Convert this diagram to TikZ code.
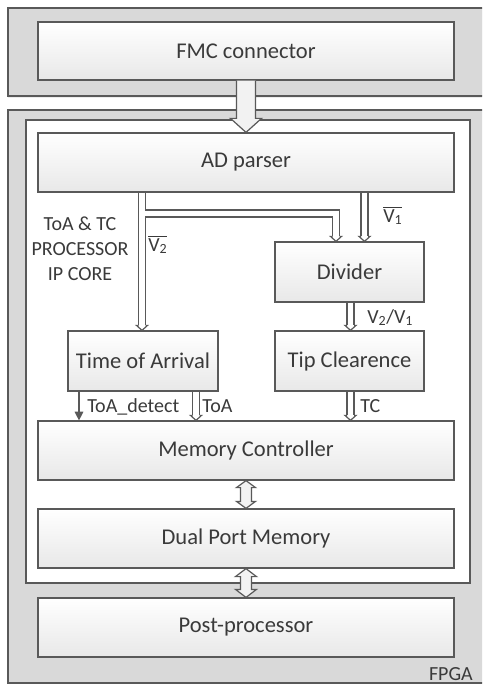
\documentclass[tikz,border=0pt]{standalone}
\usepackage{fontspec}
\setmainfont{Carlito}
\usetikzlibrary{calc,shadows,arrows.meta}
\definecolor{bord}{HTML}{595959}
\definecolor{bggray}{HTML}{D9D9D9}
\definecolor{txt}{HTML}{3A3A3A}
\newcommand\ovl[1]{$\overline{\hbox{#1}}$}
\begin{document}
\begin{tikzpicture}[x=0.75pt,y=-0.75pt,
  box/.style={draw=bord, line width=0.9pt, top color=white, bottom color=black!9,
    text=txt, font=\fontsize{16.9}{20}\selectfont,
    drop shadow={opacity=0.18, shadow xshift=1pt, shadow yshift=-1pt}},
  lbl/.style={text=txt, font=\fontsize{15}{18.75}\selectfont, inner sep=0pt},
  region/.style={draw=bord, line width=0.9pt, fill=bggray},
  pipeo/.style={draw=bord, line width=6.2pt, line join=miter, shorten >=3.75pt},
  pipei/.style={draw=white, line width=4.35pt, line join=miter, shorten >=3.75pt},
  barrow/.style={draw=bord, line width=0.9pt, fill=white!95!black, line join=miter},
  dhead/.pic={\draw[bord, line width=0.9pt, fill=white, line join=miter]
    (-3.5,-5) -- (-5.5,-5) -- (0,0) -- (5.5,-5) -- (3.5,-5);},
]
\clip (0,0) rectangle (482,684);
\fill[white] (0,0) rectangle (482,684);
% regions
\draw[region, drop shadow={opacity=0.15, shadow xshift=0pt, shadow yshift=-1.2pt}] (8,8) rectangle (496,96);
\draw[region] (8,110) rectangle (496,683);
\draw[draw=bord, line width=0.9pt, fill=white] (26,120) rectangle (470,583);
\node[lbl, anchor=base east] (fpga) at (473,680) {FPGA};

% boxes
\node[box, minimum width=416*0.75pt, minimum height=58*0.75pt] (fmc) at (246,51) {FMC connector};
\node[box, minimum width=416*0.75pt, minimum height=59*0.75pt] (adp) at (246,162.5) {AD parser};
\node[box, minimum width=149*0.75pt, minimum height=60*0.75pt] (div) at (349.5,272) {Divider};
\node[box, minimum width=150*0.75pt, minimum height=60*0.75pt] (toa) at (143,361) {Time of Arrival};
\node[box, minimum width=149*0.75pt, minimum height=60*0.75pt] (tip) at (349.5,361) {Tip Clearence};
\node[box, minimum width=416*0.75pt, minimum height=59*0.75pt] (mc) at (246,450.5) {Memory Controller};
\node[box, minimum width=416*0.75pt, minimum height=59*0.75pt] (dpm) at (246,538.5) {Dual Port Memory};
\node[box, minimum width=416*0.75pt, minimum height=59*0.75pt] (pp) at (246,627.5) {Post-processor};

% column coordinates
\coordinate (xt) at (142,0);
\coordinate (xd1) at (336,0);
\coordinate (xd2) at (364.5,0);
\coordinate (yb) at (0,213.5);
\coordinate (xdt) at (350.5,0);
\coordinate (xa) at (196,0);
\coordinate (xdet) at (79,0);

% double-line arrows: outer layer
\draw[pipeo] (xt |- adp.south) -- (xt |- toa.north);
\draw[pipeo] (xt |- yb) -- (xd1 |- yb) -- (xd1 |- div.north);
\draw[pipeo] (xd2 |- adp.south) -- (xd2 |- div.north);
\draw[pipeo] (xdt |- div.south) -- (xdt |- tip.north);
\draw[pipeo] (xa |- toa.south) -- (xa |- mc.north);
\draw[pipeo] (xdt |- tip.south) -- (xdt |- mc.north);
% inner layer
\draw[pipei, shorten <=0.6pt] (xt |- adp.south) -- (xt |- toa.north);
\draw[pipei] (xt |- yb) -- (xd1 |- yb) -- (xd1 |- div.north);
\draw[pipei, shorten <=0.6pt] (xd2 |- adp.south) -- (xd2 |- div.north);
\draw[pipei, shorten <=0.6pt] (xdt |- div.south) -- (xdt |- tip.north);
\draw[pipei, shorten <=0.6pt] (xa |- toa.south) -- (xa |- mc.north);
\draw[pipei, shorten <=0.6pt] (xdt |- tip.south) -- (xdt |- mc.north);
% heads
\pic at (xt |- toa.north) {dhead};
\pic at (xd1 |- div.north) {dhead};
\pic at (xd2 |- div.north) {dhead};
\pic at (xdt |- tip.north) {dhead};
\pic at (xa |- mc.north) {dhead};
\pic at (xdt |- mc.north) {dhead};

% single arrow
\draw[bord, line width=0.9pt, -{Triangle[length=6.5pt, width=6.5pt]}] (xdet |- toa.south) -- (xdet |- mc.north);

% block arrows
\draw[barrow] ($(fmc.south)+(-9.5,0)$) -- ($(adp.north)+(-9.5,-14)$) -- ($(adp.north)+(-15.5,-14)$)
  -- (adp.north) -- ($(adp.north)+(15.5,-14)$) -- ($(adp.north)+(9.5,-14)$) -- ($(fmc.south)+(9.5,0)$);
\draw[barrow] (mc.south) -- ++(9.5,7) -- ++(-4,0) -- ($(dpm.north)+(5.5,-7)$) -- ++(4,0) -- (dpm.north)
  -- ++(-9.5,-7) -- ++(4,0) -- ($(mc.south)+(-5.5,7)$) -- ++(-4,0) -- cycle;
\draw[barrow] (dpm.south) -- ++(10.5,8) -- ++(-5,0) -- ($(pp.north)+(5.5,-8)$) -- ++(5,0) -- (pp.north)
  -- ++(-10.5,-8) -- ++(5,0) -- ($(dpm.south)+(-5.5,8)$) -- ++(-5,0) -- cycle;

% labels
\node[lbl, align=center] (iplbl) at (80,248.5) {ToA \& TC\\PROCESSOR\\IP CORE};
\node[lbl, anchor=base west] (v2) at (148,251) {\ovl{V\textsubscript{2}}};
\node[lbl, anchor=base west] (v1) at (383,222) {\ovl{V\textsubscript{1}}};
\node[lbl, anchor=base west] (v21) at (367,323) {V\textsubscript{2}/V\textsubscript{1}};
\node[lbl, anchor=base west] (ltd) at (87,412) {ToA\_detect};
\node[lbl, anchor=base west] (lta) at (202,412) {ToA};
\node[lbl, anchor=base west] (ltc) at (360,412) {TC};
\end{tikzpicture}
\end{document}
